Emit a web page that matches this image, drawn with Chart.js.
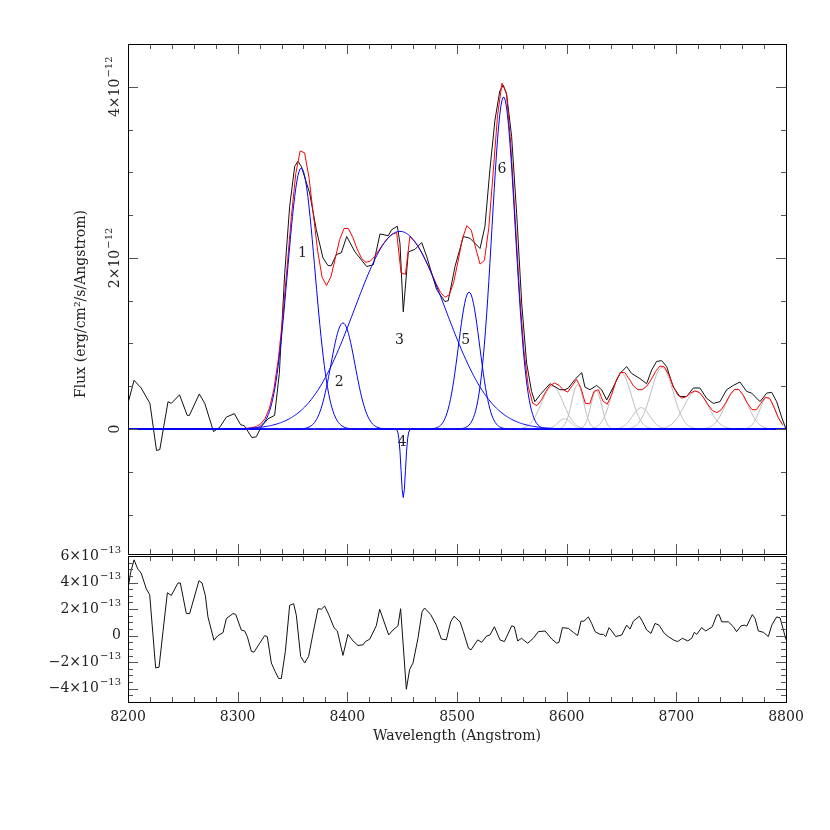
<!DOCTYPE html>
<html>
<head>
<meta charset="utf-8">
<script src="https://cdn.jsdelivr.net/npm/chart.js@4.4.0/dist/chart.umd.min.js"></script>
<style>
  html, body { margin: 0; padding: 0; background: #fff; }
  #wrap { position: relative; width: 830px; height: 830px; }
  #wrap canvas { position: absolute; left: 0; top: 0; }
</style>
</head>
<body>
<div id="wrap">
  <canvas id="fitChart" width="830" height="830"></canvas>
  <canvas id="residChart" width="830" height="830"></canvas>
</div>
<script>
/* -------------------- OBSERVED SPECTRUM (x1e-12) -------------------- */
const specWave = [8200, 8205.5, 8212, 8220, 8226, 8229, 8236.5, 8239.5, 8247, 8254, 8256, 8265, 8270, 8278,
  8283.6, 8289.7, 8297, 8302.7, 8306, 8313, 8317, 8321.6, 8327.7, 8333.7, 8338, 8342.9, 8347.4, 8352,
  8355, 8358, 8365.6, 8371.7, 8377.8, 8382.4, 8385.4, 8390, 8394.5, 8399.4, 8407, 8417.6, 8423.7, 8429.8,
  8437.4, 8440.4, 8445.6, 8448, 8451, 8455.6, 8461.7, 8467.8, 8472.3, 8481.4, 8489, 8492, 8498.2, 8505.8,
  8511.8, 8521, 8525.5, 8530, 8534.6, 8539, 8542.2, 8545.3, 8549.8, 8554.4, 8559, 8563.5, 8568, 8571,
  8575.7, 8584.8, 8593.9, 8598.5, 8601.5, 8607.6, 8613.7, 8616.7, 8621.3, 8627.3, 8631.9, 8636.5, 8642.5,
  8648.6, 8654.7, 8659.2, 8666.8, 8672.9, 8677.5, 8682, 8686.6, 8691.2, 8697.2, 8703.3, 8709.4, 8715.5,
  8721.5, 8727.6, 8733.7, 8739.8, 8745.9, 8751.9, 8758, 8764.1, 8768.7, 8776.3, 8782.4, 8786.9, 8791.5,
  8796, 8800];
const specFlux = [0.30, 0.57, 0.48, 0.30, -0.25, -0.24, 0.32, 0.30, 0.40, 0.16, 0.16, 0.41, 0.30, -0.03,
  0.02, 0.14, 0.18, 0.05, 0.04, -0.10, -0.09, 0.03, 0.12, 0.16, 0.65, 1.82, 2.60, 3.07,
  3.13, 3.07, 2.76, 2.33, 2.00, 1.91, 1.91, 2.04, 2.06, 2.25, 2.07, 1.90, 1.92, 2.28,
  2.26, 2.33, 2.37, 2.17, 1.37, 2.07, 2.10, 2.18, 2.02, 1.63, 1.49, 1.50, 1.90, 2.25,
  2.23, 2.11, 2.37, 3.03, 3.61, 3.95, 4.02, 3.91, 3.42, 2.52, 1.47, 0.77, 0.44, 0.32,
  0.40, 0.53, 0.46, 0.46, 0.48, 0.58, 0.66, 0.49, 0.46, 0.51, 0.46, 0.34, 0.49,
  0.65, 0.73, 0.65, 0.59, 0.53, 0.69, 0.79, 0.80, 0.73, 0.49, 0.38, 0.38, 0.48,
  0.48, 0.36, 0.30, 0.32, 0.46, 0.51, 0.55, 0.44, 0.42, 0.32, 0.42, 0.43, 0.32,
  0.14, 0.0];

/* -------------------- RESIDUALS (x1e-13) -------------------- */
const residWave = [8200, 8202.4, 8205.5, 8209, 8212, 8216.7, 8219.8, 8225.2, 8228.3, 8231.9, 8235.9, 8239.5,
  8245.6, 8247.7, 8253.2, 8256.2, 8264.7, 8267.5, 8270.5, 8272.9, 8278.4, 8282, 8286.6, 8289.7, 8295.7,
  8298.2, 8303.3, 8306.4, 8308.8, 8312.5, 8314.9, 8320.1, 8324.6, 8327, 8330.7, 8334.3, 8337.4, 8339.8,
  8343.5, 8347.4, 8351, 8353.5, 8357.4, 8361.1, 8364.7, 8368.7, 8373.3, 8376.3, 8379.3, 8383.3, 8387.8,
  8390.9, 8396, 8400.6, 8405.2, 8409.7, 8414.3, 8416.4, 8420.4, 8426.4, 8429.5, 8437.7, 8441.6, 8446.2,
  8448.6, 8453.8, 8456.8, 8459.9, 8464.4, 8468.1, 8470.5, 8476, 8481.2, 8485.7, 8490.3, 8494.2, 8497.3,
  8502.8, 8505.8, 8510.4, 8512.8, 8518.9, 8522.5, 8527.1, 8530.1, 8534.1, 8539.2, 8543.2, 8549.9, 8552.3,
  8555.3, 8559, 8560.5, 8564.5, 8569.6, 8574.2, 8580.3, 8586.3, 8590.9, 8593, 8596.1, 8601.5, 8606.1,
  8610, 8613.1, 8615.8, 8619.8, 8622.8, 8625.9, 8630.4, 8633.5, 8635.6, 8638.6, 8641.1, 8644.7, 8650.2,
  8654.7, 8657.8, 8660.8, 8666.3, 8669, 8673, 8676.9, 8680.6, 8684.2, 8689.1, 8692.7, 8697.3, 8701.2,
  8705.5, 8710.4, 8714, 8716.4, 8718.6, 8723.1, 8726.8, 8732.8, 8736.8, 8738.9, 8741.4, 8747.4, 8752,
  8755, 8759, 8762, 8764.2, 8769.3, 8771.8, 8774.8, 8779.4, 8783.9, 8787, 8791.5, 8794.6, 8800];
const residFlux = [3.52, 4.76, 5.71, 5.01, 4.71, 3.52, 3.08, -2.43, -2.38, 0.30, 3.23, 3.03,
  3.97, 3.97, 1.66, 1.66, 4.14, 3.97, 3.03, 1.41, -0.35, 0.0, 0.22, 1.29, 1.66,
  1.61, 0.42, 0.35, -0.07, -1.19, -1.24, -0.57, 0.0, -0.07, -2.06, -2.73, -3.23, -3.23,
  -1.19, 2.28, 2.41, 1.54, -1.56, -2.06, -1.56, 0.17, 2.03, 1.99, 2.23, 1.54, 0.60,
  0.35, -1.49, 0.10, -0.40, -0.74, -0.69, -0.45, -0.27, 0.74, 1.99, 0.05, 0.42, 0.74,
  2.03, -4.04, -2.56, -2.06, -0.20, 1.79, 2.08, 1.59, 0.79, -0.25, -0.32, 1.04, 1.46,
  1.04, 0.30, -0.94, -1.07, -0.32, -0.50, -0.02, 0.05, 0.67, -0.32, -0.45, 0.74, 0.67,
  -0.40, -0.20, -0.32, -0.57, -0.20, 0.30, 0.35, -0.25, -0.57, -0.50, 0.60, 0.55, 0.25,
  0.0, 1.09, 1.09, 1.41, 0.92, 0.30, 0.10, 0.10, -0.07, 0.60, 0.35, -0.07, 0.05,
  0.79, 0.50, 1.09, 1.46, 1.09, 0.42, 0.17, 0.92, 0.79, 0.17, -0.07, -0.32, -0.45,
  -0.20, -0.40, -0.20, 0.25, 0.10, 0.60, 0.35, 0.67, 1.54, 1.59, 1.04, 1.04, 0.67,
  0.30, 0.74, 0.79, 0.72, 1.59, 1.29, 0.35, 0.25, -0.07, 0.79, 1.41, 1.34, -0.30];

/* -------------------- FIT COMPONENTS (gaussian parameters) -------------------- */
const lineNames = ["1", "2", "3", "4", "5", "6"];
const lineCenter = [8358, 8396, 8448, 8451, 8511, 8542.5];
const linePeak = [3.05, 1.24, 2.31, -0.80, 1.60, 3.88];
const lineSigma = [12.5, 11, 41.5, 2, 9.7, 10.6];
const nameWave = [8359, 8392.5, 8447.5, 8450, 8508, 8541];
const nameFlux = [2.05, 0.55, 1.04, -0.16, 1.04, 3.04];

const greyCenter = [8587, 8598, 8610, 8627, 8650, 8668, 8687, 8718, 8755, 8783];
const greyPeak = [0.50, 0.12, 0.52, 0.45, 0.65, 0.25, 0.72, 0.44, 0.47, 0.37];
const greySigma = [10, 6, 5.5, 5, 9, 8, 10, 11, 10, 7];

/* -------------------- AXIS TICK LABELS -------------------- */
const waveTicks = [8200, 8300, 8400, 8500, 8600, 8700, 8800];
const fluxTicks = [0, 2, 4];              // x1e-12
const residTicks = [-4, -2, 0, 2, 4, 6];  // x1e-13

const FONT = "'DejaVu Serif', serif";
const INK = "#222";

function profile(c, a, s, w) {
  return a * Math.exp(-((w - c) * (w - c)) / (2 * s * s));
}

const fineGrid = [];
for (let w = 8200; w <= 8800; w += 1) fineGrid.push(w);
const modelGrid = [];
for (let w = 8201; w <= 8800; w += 4) modelGrid.push(w);

function componentData(c, a, s) {
  return fineGrid.map(w => ({ x: w, y: profile(c, a, s, w) }));
}

const modelData = modelGrid.map(w => {
  let y = 0;
  lineCenter.forEach((c, i) => { y += profile(c, linePeak[i], lineSigma[i], w); });
  greyCenter.forEach((c, i) => { y += profile(c, greyPeak[i], greySigma[i], w); });
  return { x: w, y };
});

/* -------------------- DRAW HELPERS -------------------- */
function sciLabel(ctx, mant, exp, x, y, align) {
  const big = "14px " + FONT, small = "10px " + FONT;
  const base = exp ? mant + "\u00d710" : mant;
  ctx.font = big;
  const w1 = ctx.measureText(base).width;
  let w2 = 0;
  if (exp) { ctx.font = small; w2 = ctx.measureText(exp).width + 1; }
  const total = w1 + w2;
  const x0 = align === "right" ? x - total : align === "center" ? x - total / 2 : x;
  ctx.textAlign = "left";
  ctx.textBaseline = "middle";
  ctx.font = big;
  ctx.fillText(base, x0, y);
  if (exp) { ctx.font = small; ctx.fillText(exp, x0 + w1 + 1, y - 6); }
}

function frameAndTicks(chart, yStep, yMajor, yMin, yMax) {
  const { ctx, chartArea: a, scales: { x, y } } = chart;
  ctx.save();
  ctx.strokeStyle = "#555";
  ctx.lineWidth = 1;
  ctx.beginPath();
  for (let i = 0; i <= 30; i++) {
    const px = Math.round(x.getPixelForValue(8200 + i * 20)) + 0.5;
    const len = i % 5 === 0 ? 10 : 5;
    ctx.moveTo(px, a.top); ctx.lineTo(px, a.top + len);
    ctx.moveTo(px, a.bottom); ctx.lineTo(px, a.bottom - len);
  }
  const n0 = Math.ceil(yMin / yStep), n1 = Math.floor(yMax / yStep);
  for (let k = n0; k <= n1; k++) {
    const v = k * yStep;
    const py = Math.round(y.getPixelForValue(v)) + 0.5;
    const len = Math.abs(v / yMajor - Math.round(v / yMajor)) < 1e-6 ? 10 : 5;
    ctx.moveTo(a.left, py); ctx.lineTo(a.left + len, py);
    ctx.moveTo(a.right, py); ctx.lineTo(a.right - len, py);
  }
  ctx.stroke();
  ctx.strokeStyle = "#000";
  ctx.strokeRect(a.left + 0.5, a.top + 0.5, a.right - a.left, a.bottom - a.top);
  ctx.restore();
}

const fitPlugin = {
  id: "fitDecor",
  afterDraw(chart) {
    const { ctx, scales: { x, y } } = chart;
    frameAndTicks(chart, 0.5, 2, -1.46, 4.5);
    ctx.save();
    ctx.fillStyle = INK;
    fluxTicks.forEach(v => {
      ctx.save();
      ctx.translate(115, y.getPixelForValue(v));
      ctx.rotate(-Math.PI / 2);
      sciLabel(ctx, String(v), v === 0 ? "" : "\u221212", 0, 0, "center");
      ctx.restore();
    });
    ctx.save();
    ctx.translate(81, 304);
    ctx.rotate(-Math.PI / 2);
    ctx.font = "14px " + FONT;
    ctx.textAlign = "center";
    ctx.textBaseline = "middle";
    ctx.fillText("Flux (erg/cm\u00b2/s/Angstrom)", 0, 0);
    ctx.restore();
    ctx.font = "14px " + FONT;
    ctx.textAlign = "center";
    ctx.textBaseline = "middle";
    lineNames.forEach((t, i) => ctx.fillText(t, x.getPixelForValue(nameWave[i]), y.getPixelForValue(nameFlux[i])));
    ctx.restore();
  }
};

const residPlugin = {
  id: "residDecor",
  afterDraw(chart) {
    const { ctx, scales: { x, y } } = chart;
    frameAndTicks(chart, 0.5, 2, -5, 6);
    ctx.save();
    ctx.fillStyle = INK;
    residTicks.forEach(v => {
      const m = v < 0 ? "\u2212" + Math.abs(v) : String(v);
      sciLabel(ctx, m, v === 0 ? "" : "\u221213", 121, y.getPixelForValue(v), "right");
    });
    ctx.font = "14px " + FONT;
    ctx.textAlign = "center";
    ctx.textBaseline = "middle";
    waveTicks.forEach(v => ctx.fillText(String(v), x.getPixelForValue(v), 717));
    ctx.fillText("Wavelength (Angstrom)", 457, 736);
    ctx.restore();
  }
};

/* -------------------- CHARTS -------------------- */
const blueSets = lineCenter.map((c, i) => ({
  data: componentData(c, linePeak[i], lineSigma[i]),
  borderColor: "#0000ff", order: 1
}));
const greySets = greyCenter.map((c, i) => ({
  data: componentData(c, greyPeak[i], greySigma[i]),
  borderColor: "#bdbdbd", order: 5
}));

const common = {
  responsive: false,
  animation: false,
  events: [],
  parsing: false,
  plugins: { legend: { display: false }, tooltip: { enabled: false } },
  elements: { point: { radius: 0 }, line: { borderWidth: 1, tension: 0 } }
};

new Chart(document.getElementById("fitChart"), {
  type: "line",
  data: {
    datasets: [
      ...blueSets,
      { data: modelData, borderColor: "#ff0000", order: 2 },
      { data: specWave.map((w, i) => ({ x: w, y: specFlux[i] })), borderColor: "#111", order: 3 },
      ...greySets
    ]
  },
  options: {
    ...common,
    layout: { padding: { left: 128, right: 44, top: 44, bottom: 276 } },
    scales: {
      x: { type: "linear", min: 8200, max: 8800, display: false },
      y: { type: "linear", min: -1.46, max: 4.5, display: false }
    }
  },
  plugins: [fitPlugin]
});

new Chart(document.getElementById("residChart"), {
  type: "line",
  data: {
    datasets: [
      { data: residWave.map((w, i) => ({ x: w, y: residFlux[i] })), borderColor: "#111" }
    ]
  },
  options: {
    ...common,
    layout: { padding: { left: 128, right: 44, top: 556, bottom: 128 } },
    scales: {
      x: { type: "linear", min: 8200, max: 8800, display: false },
      y: { type: "linear", min: -5, max: 6, display: false }
    }
  },
  plugins: [residPlugin]
});
</script>
</body>
</html>
